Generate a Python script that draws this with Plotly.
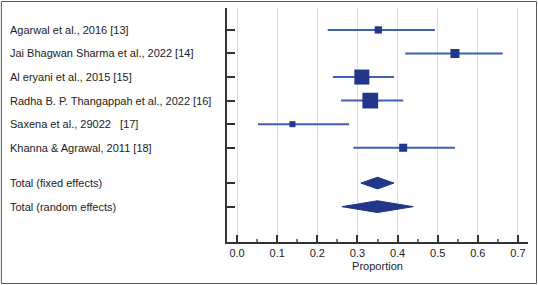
import plotly.graph_objects as go
import math

studies = ["Agarwal et al., 2016 [13]",
           "Jai Bhagwan Sharma et al., 2022 [14]",
           "Al eryani et al., 2015 [15]",
           "Radha B. P. Thangappah et al., 2022 [16]",
           "Saxena et al., 29022   [17]",
           "Khanna & Agrawal, 2011 [18]"]
proportion = [0.352, 0.543, 0.311, 0.332, 0.138, 0.414]
ci_low = [0.226, 0.419, 0.239, 0.259, 0.052, 0.290]
ci_high = [0.493, 0.662, 0.391, 0.414, 0.279, 0.543]
weight = [7.5, 11.5, 31.9, 34.9, 5.1, 9.1]

totals = ["Total (fixed effects)", "Total (random effects)"]
total_est = [0.350, 0.350]
total_low = [0.3085, 0.261]
total_high = [0.391, 0.439]

xticks = [0.0, 0.1, 0.2, 0.3, 0.4, 0.5, 0.6, 0.7]
xtick_labels = ["0.0", "0.1", "0.2", "0.3", "0.4", "0.5", "0.6", "0.7"]
x_title = "Proportion"

study_rows = list(range(len(studies)))
total_rows = [len(studies) + 0.5, len(studies) + 1.5]

MARK = "#22378a"
LINE = "#3f5fb8"
TXT = "#222222"
AX = "#333333"

fig = go.Figure()

# CI lines
for i in range(len(studies)):
    fig.add_trace(go.Scatter(x=[ci_low[i], ci_high[i]], y=[study_rows[i]] * 2,
                             mode="lines", line=dict(color=LINE, width=2),
                             hoverinfo="skip", showlegend=False))

fig.add_trace(go.Scatter(
    x=proportion, y=study_rows, mode="markers",
    marker=dict(symbol="square", color=MARK, opacity=1,
                size=[2.66 * math.sqrt(w) for w in weight],
                line=dict(width=0)),
    showlegend=False))

hh = 0.25
for i in range(len(totals)):
    r = total_rows[i]
    fig.add_trace(go.Scatter(
        x=[total_low[i], total_est[i], total_high[i], total_est[i], total_low[i]],
        y=[r, r - hh, r, r + hh, r],
        mode="lines", fill="toself", fillcolor=MARK,
        line=dict(color=MARK, width=1), hoverinfo="skip", showlegend=False))

annotations = []
for lab, r in zip(studies + totals, study_rows + total_rows):
    annotations.append(dict(text=lab, x=-0.726, xref="paper", y=r, yref="y",
                            xanchor="left", yanchor="middle", showarrow=False,
                            font=dict(family="Liberation Sans, Arial", size=11, color=TXT)))

fig.update_layout(
    width=538, height=285,
    margin=dict(l=227, r=10, t=8, b=43),
    paper_bgcolor="white", plot_bgcolor="white",
    annotations=annotations,
    font=dict(family="Liberation Sans, Arial", size=11, color=TXT),
    shapes=[dict(type="rect", xref="paper", yref="paper",
                 x0=-0.7495, x1=1.0283, y0=-0.1773, y1=1.0278,
                 line=dict(color="#555555", width=1), layer="above")],
    xaxis=dict(range=[-0.025, 0.725], tickvals=xticks, ticktext=xtick_labels,
               showgrid=True, gridcolor="#dedede", gridwidth=1,
               zeroline=False, showline=True, linecolor=AX, linewidth=2,
               ticks="inside", ticklen=7, tickwidth=1.5, tickcolor=AX,
               minor=dict(tickvals=[0.05, 0.15, 0.25, 0.35, 0.45, 0.55, 0.65],
                          ticks="inside", ticklen=3, tickcolor="#777777", showgrid=False),
               title=dict(text=x_title, standoff=4, font=dict(size=11)),
               tickfont=dict(size=11, color=TXT)),
    yaxis=dict(range=[9, -0.93], tickvals=study_rows + total_rows,
               showticklabels=False, showgrid=False, zeroline=False,
               showline=True, linecolor=AX, linewidth=2,
               ticks="inside", ticklen=8, tickwidth=1.5, tickcolor=AX),
)

fig.write_html("out.html", config={"displayModeBar": False},
               post_script="document.body.style.margin='0px';document.body.style.overflow='hidden';")
